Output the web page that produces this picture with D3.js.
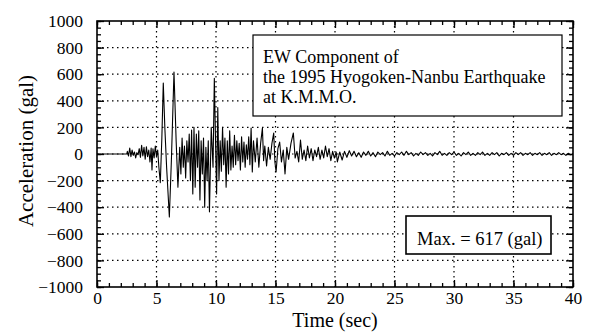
<!DOCTYPE html>
<html>
<head>
<meta charset="utf-8">
<script src="https://cdn.jsdelivr.net/npm/d3@7/dist/d3.min.js"></script>
<style>
  html, body { margin: 0; padding: 0; background: #fff; }
  svg text { font-family: "Liberation Serif", "DejaVu Serif", serif; fill: #000; }
</style>
</head>
<body>
<div id="chart"></div>
<script>
// time (sec), acceleration (gal)
const preEvent = [
  [0, 0], [2.5, 0], [2.55, 20], [2.65, -15], [2.75, 45], [2.85, -20], [2.95, 30], [3.05, -10],
  [3.15, 15], [3.25, -30], [3.35, 10], [3.45, -5], [3.55, 40], [3.65, -25], [3.75, 65],
  [3.85, -15], [3.95, 50], [4.05, -40], [4.15, 55], [4.25, -20], [4.35, 30], [4.45, -60],
  [4.55, 45], [4.62, -120], [4.7, 40], [4.8, -30], [4.9, 60], [5.0, -20], [5.1, 30]
];

const strongMotion = [
  [5.2, -100], [5.32, -215], [5.45, 120], [5.57, 534], [5.7, 200], [5.85, -100], [6.08, -474],
  [6.25, -50], [6.47, 617], [6.65, 100], [6.8, -250], [6.95, 50], [7.05, -150], [7.15, 120],
  [7.25, -100], [7.35, 60], [7.45, -180], [7.55, 100], [7.65, -60], [7.75, 150], [7.85, -200],
  [7.95, 180], [8.05, -300], [8.15, 200], [8.25, -250], [8.35, 150], [8.45, -100], [8.55, 175],
  [8.65, -345], [8.75, 100], [8.85, -150], [8.95, 120], [9.05, -400], [9.15, 50], [9.25, -200],
  [9.35, 100], [9.45, -435], [9.6, 200], [9.75, -100], [9.86, 570], [9.95, 150], [10.05, -300],
  [10.15, 350], [10.25, -200], [10.35, 100], [10.45, -130], [10.55, 200], [10.65, -80],
  [10.75, 120], [10.85, -250], [10.95, 100], [11.05, -150], [11.15, 175], [11.25, -120],
  [11.35, 60], [11.45, -100], [11.55, 140], [11.65, -80], [11.75, 100], [11.85, -50],
  [11.95, 80], [12.05, -120], [12.15, 130], [12.25, -60], [12.35, 90], [12.45, -100],
  [12.55, 70], [12.65, -40], [12.75, 130], [12.85, -80], [12.95, 195], [13.05, -135],
  [13.15, 100], [13.3, -60], [13.45, 120], [13.6, -100], [13.75, 80], [13.9, 195], [14.0, -50],
  [14.1, 60], [14.25, -90], [14.4, 50], [14.55, -40], [14.7, 80], [14.85, 158], [14.95, -60],
  [15.05, -135], [15.2, 40], [15.35, 90], [15.5, -60], [15.65, 30], [15.8, -150], [15.95, 50],
  [16.1, -40], [16.3, 80], [16.5, 158], [16.65, -30], [16.8, 20], [16.95, -60], [17.1, 105],
  [17.25, -40], [17.4, 30], [17.55, -50], [17.7, 60], [17.85, -30], [18.0, 40], [18.15, -50],
  [18.3, 30], [18.45, -20], [18.6, 50], [18.75, -40], [18.9, 30], [19.05, -30], [19.2, 60],
  [19.35, -20], [19.5, 40], [19.65, -50], [19.8, 20], [19.95, -30], [20.1, 15]
];

const coda = [
  [20.2, -60], [20.4, 15], [20.6, -45], [20.8, 20], [21.0, -25], [21.2, 25], [21.4, -15],
  [21.6, 20], [21.8, -20], [22.0, 10], [22.2, -25], [22.4, 15], [22.6, -10], [22.8, 20],
  [23.0, -15], [23.2, 10], [23.4, -20], [23.6, 15], [23.8, -5], [24.0, 10], [24.2, -15],
  [24.4, 20], [24.6, -10], [24.8, 5], [25.0, -15], [25.2, 10], [25.4, -5], [25.6, 15],
  [25.8, -10], [26.0, 20], [26.2, -5], [26.4, 10], [26.6, -15], [26.8, 5], [27.0, -10],
  [27.2, 15], [27.4, -5], [27.6, 10], [27.8, -10], [28.0, 5], [28.2, -15], [28.4, 10],
  [28.6, -5], [28.8, 20], [29.0, -10], [29.2, 5], [29.4, -10], [29.6, 10], [29.8, -5],
  [30.0, 15], [30.2, -10], [30.4, 5], [30.6, -15], [30.8, 10], [31.0, -5], [31.2, 15],
  [31.4, -10], [31.6, 5], [31.8, -10], [32.0, 10], [32.2, -5], [32.4, 15], [32.6, -10],
  [32.8, 5], [33.0, -10], [33.2, 10], [33.4, -5], [33.6, 10], [33.8, -15], [34.0, 5],
  [34.2, -5], [34.4, 10], [34.6, -10], [34.8, 5], [35.0, -10], [35.2, 10], [35.4, -5],
  [35.6, 10], [35.8, -10], [36.0, 5], [36.2, -5], [36.4, 10], [36.6, -10], [36.8, 5],
  [37.0, -5], [37.2, 10], [37.4, -10], [37.6, 5], [37.8, -5], [38.0, 10], [38.2, -10],
  [38.4, 5], [38.6, -5], [38.8, 10], [39.0, -5], [39.2, 5], [39.4, -10], [39.6, 5],
  [39.8, -5], [40.0, 0]
];

const xTicks = [0, 5, 10, 15, 20, 25, 30, 35, 40];
const yTicks = [-1000, -800, -600, -400, -200, 0, 200, 400, 600, 800, 1000];
const legendLines = ["EW Component of", "the 1995 Hyogoken-Nanbu Earthquake", "at K.M.M.O."];
const maxLabel = "Max. = 617 (gal)";

const W = 589, H = 335;
const plotL = 97, plotR = 573, plotT = 21, plotB = 287;
const serif = "'Liberation Serif', 'DejaVu Serif', serif";

const svg = d3.select("#chart").append("svg")
  .attr("width", W).attr("height", H)
  .style("display", "block");

svg.append("rect").attr("width", W).attr("height", H).attr("fill", "#fff");

const x = d3.scaleLinear().domain([0, 40]).range([plotL, plotR]);
const y = d3.scaleLinear().domain([-1000, 1000]).range([plotB, plotT]);

// dotted grid
const grid = svg.append("g")
  .attr("stroke", "#000")
  .attr("stroke-width", 1.2)
  .attr("stroke-dasharray", "1.5 3.5");

grid.selectAll("line.gx")
  .data(xTicks.slice(1, -1))
  .enter().append("line")
  .attr("x1", d => x(d)).attr("x2", d => x(d))
  .attr("y1", plotT).attr("y2", plotB);

grid.selectAll("line.gy")
  .data(yTicks.slice(1, -1))
  .enter().append("line")
  .attr("x1", plotL).attr("x2", plotR)
  .attr("y1", d => y(d)).attr("y2", d => y(d));

// trace
const trace = preEvent.concat(strongMotion, coda);
const line = d3.line().x(d => x(d[0])).y(d => y(d[1]));

svg.append("path")
  .datum(trace)
  .attr("d", line)
  .attr("fill", "none")
  .attr("stroke", "#000")
  .attr("stroke-width", 1.1)
  .attr("stroke-linejoin", "round");

// axes, ticks inward on all four sides
const minorX = d3.range(0, 41, 1);
const minorY = d3.range(-1000, 1001, 50);

function styleAxis(g) {
  g.attr("font-family", serif).attr("font-size", 17.5);
  g.select(".domain").remove();
  g.selectAll(".tick line").attr("stroke", "#000").attr("stroke-width", 1.3);
  g.selectAll("text").attr("fill", "#000").style("font-family", serif);
}

svg.append("g").attr("transform", `translate(0,${plotB})`)
  .call(d3.axisBottom(x).tickValues(minorX).tickSize(-4).tickFormat(""))
  .call(styleAxis);
svg.append("g").attr("transform", `translate(0,${plotB})`)
  .call(d3.axisBottom(x).tickValues(xTicks).tickSize(-7).tickPadding(5).tickFormat(d3.format("d")))
  .call(styleAxis);

svg.append("g").attr("transform", `translate(0,${plotT})`)
  .call(d3.axisTop(x).tickValues(minorX).tickSize(-4).tickFormat(""))
  .call(styleAxis);
svg.append("g").attr("transform", `translate(0,${plotT})`)
  .call(d3.axisTop(x).tickValues(xTicks).tickSize(-7).tickFormat(""))
  .call(styleAxis);

svg.append("g").attr("transform", `translate(${plotL},0)`)
  .call(d3.axisLeft(y).tickValues(minorY).tickSize(-4).tickFormat(""))
  .call(styleAxis);
svg.append("g").attr("transform", `translate(${plotL},0)`)
  .call(d3.axisLeft(y).tickValues(yTicks).tickSize(-7).tickPadding(14).tickFormat(d3.format("d")))
  .call(styleAxis);

svg.append("g").attr("transform", `translate(${plotR},0)`)
  .call(d3.axisRight(y).tickValues(minorY).tickSize(-4).tickFormat(""))
  .call(styleAxis);
svg.append("g").attr("transform", `translate(${plotR},0)`)
  .call(d3.axisRight(y).tickValues(yTicks).tickSize(-7).tickFormat(""))
  .call(styleAxis);

// frame
svg.append("rect")
  .attr("x", plotL).attr("y", plotT)
  .attr("width", plotR - plotL).attr("height", plotB - plotT)
  .attr("fill", "none").attr("stroke", "#000").attr("stroke-width", 1.6);

// axis titles
svg.append("text")
  .attr("x", (plotL + plotR) / 2).attr("y", 327)
  .attr("text-anchor", "middle").attr("font-size", 20)
  .style("font-family", serif)
  .text("Time (sec)");

svg.append("text")
  .attr("transform", "translate(33,151) rotate(-90)")
  .attr("text-anchor", "middle").attr("font-size", 21)
  .style("font-family", serif)
  .text("Acceleration (gal)");

// title box
svg.append("rect")
  .attr("x", 253).attr("y", 35).attr("width", 309).attr("height", 81)
  .attr("fill", "#fff").attr("stroke", "#000").attr("stroke-width", 1.2);

svg.append("g").selectAll("text")
  .data(legendLines)
  .enter().append("text")
  .attr("x", 263).attr("y", (d, i) => 63 + i * 20)
  .attr("font-size", 18)
  .style("font-family", serif)
  .text(d => d);

// max box
svg.append("rect")
  .attr("x", 406).attr("y", 216).attr("width", 145).attr("height", 38)
  .attr("fill", "#fff").attr("stroke", "#000").attr("stroke-width", 1.6);

svg.append("text")
  .attr("x", 417).attr("y", 245)
  .attr("font-size", 18.5)
  .style("font-family", serif)
  .text(maxLabel);
</script>
</body>
</html>
